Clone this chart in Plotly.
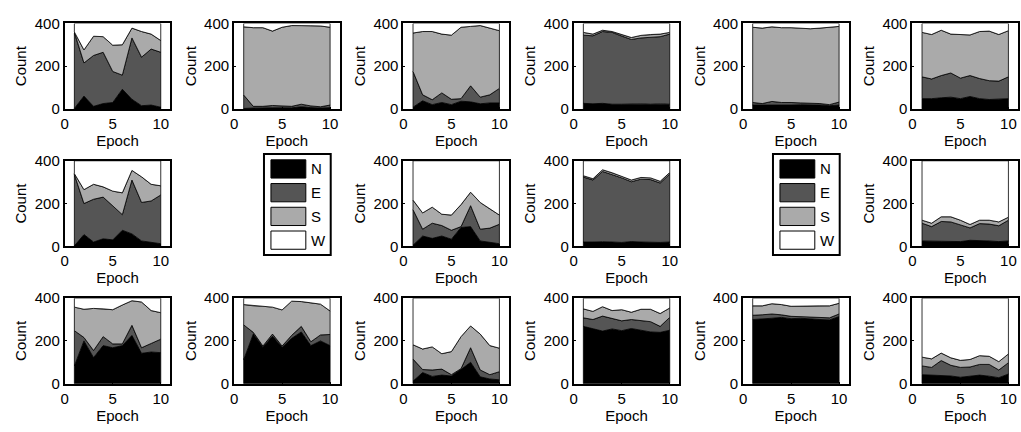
import numpy as np
import plotly.graph_objects as go

EPOCHS = list(range(1, 11))
DIRECTIONS = ["N", "E", "S", "W"]
COLORS = ["#000000", "#555555", "#aaaaaa", "#ffffff"]
X_TICKS = [0, 5, 10]
Y_TICKS = [0, 200, 400]

# panel data (row, col) -> N, E, S, W counts per epoch
N01 = [2, 60, 12, 25, 30, 92, 45, 15, 18, 8]
E01 = [353, 155, 238, 240, 145, 66, 287, 227, 262, 257]
S01 = [5, 61, 90, 73, 123, 142, 46, 120, 70, 55]
W01 = [40, 124, 60, 62, 102, 100, 22, 38, 50, 80]

N02 = [2, 4, 5, 6, 6, 5, 10, 6, 4, 6]
E02 = [63, 8, 7, 10, 8, 7, 12, 8, 6, 12]
S02 = [319, 368, 368, 348, 368, 378, 368, 375, 378, 364]
W02 = [16, 20, 20, 36, 18, 10, 10, 11, 12, 18]

N03 = [8, 38, 20, 30, 20, 36, 33, 24, 28, 28]
E03 = [167, 28, 23, 45, 25, 12, 75, 31, 38, 68]
S03 = [180, 296, 319, 275, 300, 334, 278, 335, 312, 270]
W03 = [45, 38, 38, 50, 55, 18, 14, 10, 22, 34]

N04 = [26, 24, 26, 22, 22, 22, 24, 22, 24, 22]
E04 = [319, 318, 336, 336, 318, 303, 308, 313, 314, 328]
S04 = [13, 8, 6, 4, 8, 9, 12, 13, 12, 8]
W04 = [42, 50, 32, 38, 52, 66, 56, 52, 50, 42]

N05 = [18, 18, 20, 18, 18, 20, 20, 18, 15, 18]
E05 = [12, 7, 15, 12, 12, 8, 8, 7, 5, 14]
S05 = [352, 353, 349, 350, 350, 350, 347, 353, 361, 354]
W05 = [18, 22, 16, 20, 20, 22, 25, 22, 19, 14]

N06 = [48, 48, 52, 55, 48, 58, 48, 44, 45, 48]
E06 = [102, 92, 104, 113, 96, 98, 94, 88, 85, 102]
S06 = [208, 208, 212, 182, 204, 190, 220, 232, 218, 216]
W06 = [42, 52, 32, 50, 52, 54, 38, 36, 52, 34]

N07 = [2, 55, 20, 35, 30, 75, 58, 25, 20, 12]
E07 = [334, 145, 200, 195, 160, 73, 252, 180, 192, 228]
S07 = [4, 65, 70, 48, 68, 102, 45, 120, 78, 43]
W07 = [60, 135, 110, 122, 142, 150, 45, 75, 110, 117]

N09 = [5, 48, 37, 48, 33, 88, 92, 25, 20, 12]
E09 = [166, 32, 71, 49, 42, 4, 98, 55, 65, 91]
S09 = [45, 76, 75, 53, 71, 103, 63, 125, 90, 43]
W09 = [184, 244, 217, 250, 254, 205, 147, 195, 225, 254]

N10 = [20, 20, 22, 20, 18, 22, 20, 18, 18, 20]
E10 = [304, 290, 328, 316, 302, 280, 294, 294, 278, 318]
S10 = [6, 6, 8, 8, 8, 8, 8, 8, 8, 7]
W10 = [70, 84, 42, 56, 72, 90, 78, 80, 96, 55]

N12 = [25, 22, 22, 22, 22, 28, 25, 25, 22, 25]
E12 = [83, 70, 94, 92, 78, 58, 81, 79, 74, 97]
S12 = [14, 16, 22, 24, 22, 16, 16, 18, 18, 14]
W12 = [278, 292, 262, 262, 278, 298, 278, 278, 286, 264]

N13 = [83, 200, 122, 178, 168, 178, 226, 142, 148, 145]
E13 = [165, 16, 33, 42, 18, 8, 47, 26, 40, 63]
S13 = [110, 132, 197, 130, 160, 182, 115, 214, 154, 124]
W13 = [42, 52, 48, 50, 54, 32, 12, 18, 58, 68]

N14 = [112, 232, 170, 222, 170, 212, 242, 178, 200, 178]
E14 = [163, 8, 6, 10, 6, 14, 26, 18, 28, 52]
S14 = [95, 124, 186, 126, 169, 160, 116, 182, 144, 110]
W14 = [30, 36, 38, 42, 55, 14, 16, 22, 28, 60]

N15 = [12, 52, 34, 40, 36, 66, 100, 32, 22, 18]
E15 = [103, 14, 30, 28, 6, 4, 68, 32, 20, 38]
S15 = [67, 96, 108, 72, 108, 150, 102, 168, 136, 110]
W15 = [218, 238, 228, 260, 250, 180, 130, 168, 222, 234]

N16 = [268, 256, 246, 256, 248, 258, 250, 242, 240, 250]
E16 = [40, 44, 70, 48, 46, 42, 46, 48, 28, 60]
S16 = [42, 38, 44, 38, 52, 34, 52, 58, 60, 44]
W16 = [50, 62, 40, 58, 54, 66, 52, 52, 72, 46]

N17 = [300, 302, 306, 310, 304, 306, 302, 300, 298, 314]
E17 = [20, 20, 20, 12, 11, 10, 10, 10, 10, 12]
S17 = [44, 42, 48, 48, 47, 46, 52, 54, 56, 50]
W17 = [36, 36, 26, 30, 38, 38, 36, 36, 36, 24]

N18 = [42, 42, 38, 36, 30, 35, 40, 35, 28, 45]
E18 = [41, 34, 70, 50, 46, 43, 50, 55, 36, 53]
S18 = [41, 40, 35, 35, 33, 35, 41, 38, 39, 41]
W18 = [276, 284, 257, 279, 291, 287, 269, 272, 297, 261]

PANELS = [
    (0, 0, [N01, E01, S01, W01]), (0, 1, [N02, E02, S02, W02]),
    (0, 2, [N03, E03, S03, W03]), (0, 3, [N04, E04, S04, W04]),
    (0, 4, [N05, E05, S05, W05]), (0, 5, [N06, E06, S06, W06]),
    (1, 0, [N07, E07, S07, W07]), (1, 2, [N09, E09, S09, W09]),
    (1, 3, [N10, E10, S10, W10]), (1, 5, [N12, E12, S12, W12]),
    (2, 0, [N13, E13, S13, W13]), (2, 1, [N14, E14, S14, W14]),
    (2, 2, [N15, E15, S15, W15]), (2, 3, [N16, E16, S16, W16]),
    (2, 4, [N17, E17, S17, W17]), (2, 5, [N18, E18, S18, W18]),
]
LEGEND_CELLS = [(1, 1), (1, 4)]

# ---- layout geometry (pixels) ----
FIG_W, FIG_H = 1021, 432
COL_LEFT = [61, 231, 401, 572, 742, 912]
ROW_TOP = [15, 158, 301]
AX_W, AX_H = 106, 89
FONT = dict(family="Liberation Sans, Arial, sans-serif", size=15, color="black")

fig = go.Figure()
layout = {}

for i, (r, c, series) in enumerate(PANELS):
    idx = i + 1
    xa = "x" if idx == 1 else f"x{idx}"
    ya = "y" if idx == 1 else f"y{idx}"
    xs = np.array(EPOCHS, dtype=float)
    lower = np.zeros(len(xs))
    for k, vals in enumerate(series):
        upper = lower + np.array(vals, dtype=float)
        px = list(xs) + list(xs[::-1]) + [xs[0]]
        py = list(upper) + list(lower[::-1]) + [upper[0]]
        fig.add_trace(go.Scatter(
            x=px, y=py, mode="lines", fill="toself", fillcolor=COLORS[k],
            line=dict(color="black", width=0.8), xaxis=xa, yaxis=ya,
            showlegend=False, hoverinfo="skip"))
        lower = upper
    x0 = COL_LEFT[c] / FIG_W
    x1 = (COL_LEFT[c] + AX_W) / FIG_W
    y1 = 1 - ROW_TOP[r] / FIG_H
    y0 = 1 - (ROW_TOP[r] + AX_H) / FIG_H
    kx = "xaxis" if idx == 1 else f"xaxis{idx}"
    ky = "yaxis" if idx == 1 else f"yaxis{idx}"
    layout[kx] = dict(domain=[x0, x1], range=[0, 11], anchor=ya,
                      tickvals=X_TICKS, ticks="inside", ticklen=2, tickcolor="black",
                      showline=True, mirror=True, linecolor="black", linewidth=2,
                      showgrid=False, zeroline=False, tickfont=FONT,
                      title=dict(text="Epoch", font=FONT, standoff=2))
    layout[ky] = dict(domain=[y0, y1], range=[0, 400], anchor=xa,
                      tickvals=Y_TICKS, ticks="inside", ticklen=2, tickcolor="black",
                      showline=True, mirror=True, linecolor="black", linewidth=2,
                      showgrid=False, zeroline=False, tickfont=FONT,
                      title=dict(text="Count", font=FONT, standoff=4))

# ---- legends drawn as shapes ----
shapes = []
annotations = []
LEG_BOX = (246, 151, 313, 256)   # relative to column 1 legend
for (r, c) in LEGEND_CELLS:
    dx = COL_LEFT[c] - COL_LEFT[1] + (15 if c == 4 else 15)
    bx0, by0, bx1, by1 = LEG_BOX
    bx0 += dx - 15 + 15
    bx1 += dx - 15 + 15
    def P(xp, yp):
        return xp / FIG_W, 1 - yp / FIG_H
    a0 = P(bx0, by0); a1 = P(bx1, by1)
    shapes.append(dict(type="rect", xref="paper", yref="paper",
                       x0=a0[0], x1=a1[0], y0=a1[1], y1=a0[1],
                       line=dict(color="black", width=2), fillcolor="white"))
    for k, name in enumerate(DIRECTIONS):
        sy0 = by0 + 6 + k * 24.7
        sy1 = sy0 + 19
        sx0 = bx0 + 7
        sx1 = sx0 + 35
        p0 = P(sx0, sy0); p1 = P(sx1, sy1)
        shapes.append(dict(type="rect", xref="paper", yref="paper",
                           x0=p0[0], x1=p1[0], y0=p1[1], y1=p0[1],
                           line=dict(color="black", width=1), fillcolor=COLORS[k]))
        t = P(sx1 + 3, (sy0 + sy1) / 2)
        annotations.append(dict(text=name, x=t[0], y=t[1], xref="paper", yref="paper",
                                xanchor="left", yanchor="middle", showarrow=False,
                                font=FONT))

fig.update_layout(width=FIG_W, height=FIG_H, margin=dict(l=0, r=0, t=0, b=0),
                  paper_bgcolor="white", plot_bgcolor="white", font=FONT,
                  showlegend=False, shapes=shapes, annotations=annotations, **layout)
fig.write_html("out.html")
